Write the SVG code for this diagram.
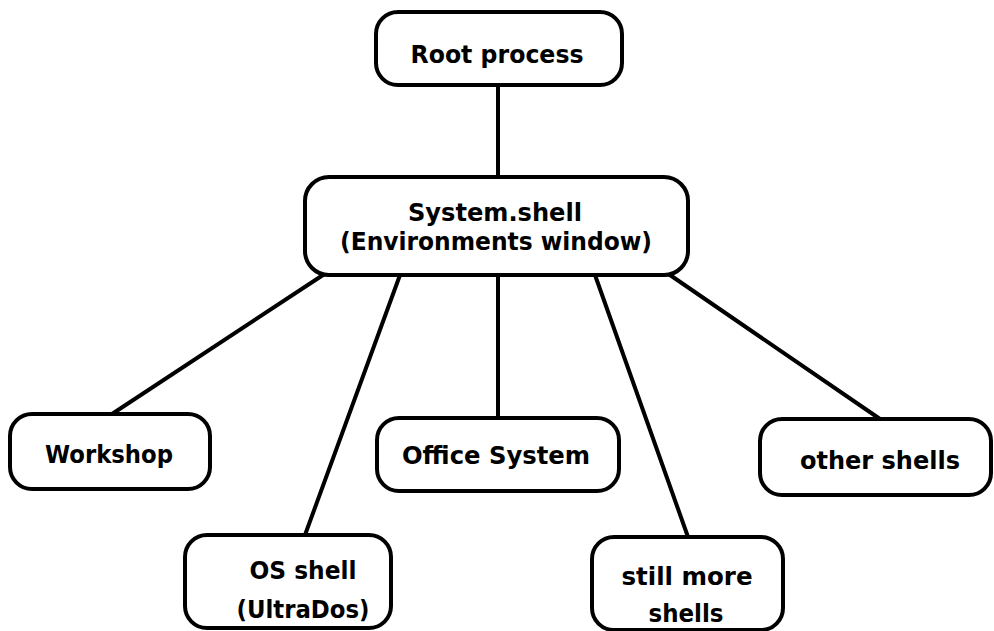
<svg xmlns="http://www.w3.org/2000/svg" width="994" height="631" viewBox="0 0 994 631">
<style>
.box{fill:#fff;stroke:#000;stroke-width:4}
.lbl{font-family:"DejaVu Sans","Liberation Sans",sans-serif;font-weight:bold;font-size:24px;fill:#000;text-anchor:middle}
.con line{stroke:#000;stroke-width:4;stroke-linecap:round}
</style>
<rect width="994" height="631" fill="#fff"/>
<g class="con" id="connectors">
<line x1="498" y1="85" x2="498" y2="177"/>
<line x1="323" y1="275" x2="112" y2="414"/>
<line x1="400" y1="275" x2="305" y2="535"/>
<line x1="498" y1="275" x2="498" y2="418"/>
<line x1="595" y1="275" x2="688" y2="537"/>
<line x1="670" y1="275" x2="880" y2="419"/>
</g>
<g id="root"><rect class="box" x="376" y="12" width="246" height="73" rx="22"/><text class="lbl" x="497" y="63" textLength="173" lengthAdjust="spacingAndGlyphs">Root process</text></g>
<g id="systemshell"><rect class="box" x="305" y="177" width="383" height="98" rx="24"/><text class="lbl" x="495" y="221" textLength="174" lengthAdjust="spacingAndGlyphs">System.shell</text><text class="lbl" x="496" y="250" textLength="312" lengthAdjust="spacingAndGlyphs">(Environments window)</text></g>
<g id="workshop"><rect class="box" x="10" y="414" width="200" height="75" rx="22"/><text class="lbl" x="109" y="463" textLength="128" lengthAdjust="spacingAndGlyphs">Workshop</text></g>
<g id="office"><rect class="box" x="377" y="418" width="242" height="73" rx="22"/><text class="lbl" x="496" y="464" textLength="188" lengthAdjust="spacingAndGlyphs">Office System</text></g>
<g id="other"><rect class="box" x="760" y="419" width="231" height="76" rx="22"/><text class="lbl" x="880" y="469" textLength="160" lengthAdjust="spacingAndGlyphs">other shells</text></g>
<g id="osshell"><rect class="box" x="185" y="535" width="206" height="93" rx="22"/><text class="lbl" x="303" y="579" textLength="107" lengthAdjust="spacingAndGlyphs">OS shell</text><text class="lbl" x="303" y="618" textLength="133" lengthAdjust="spacingAndGlyphs">(UltraDos)</text></g>
<g id="stillmore"><rect class="box" x="592" y="537" width="191" height="93" rx="22"/><text class="lbl" x="687" y="585" textLength="131" lengthAdjust="spacingAndGlyphs">still more</text><text class="lbl" x="686" y="622" textLength="75" lengthAdjust="spacingAndGlyphs">shells</text></g>
</svg>
